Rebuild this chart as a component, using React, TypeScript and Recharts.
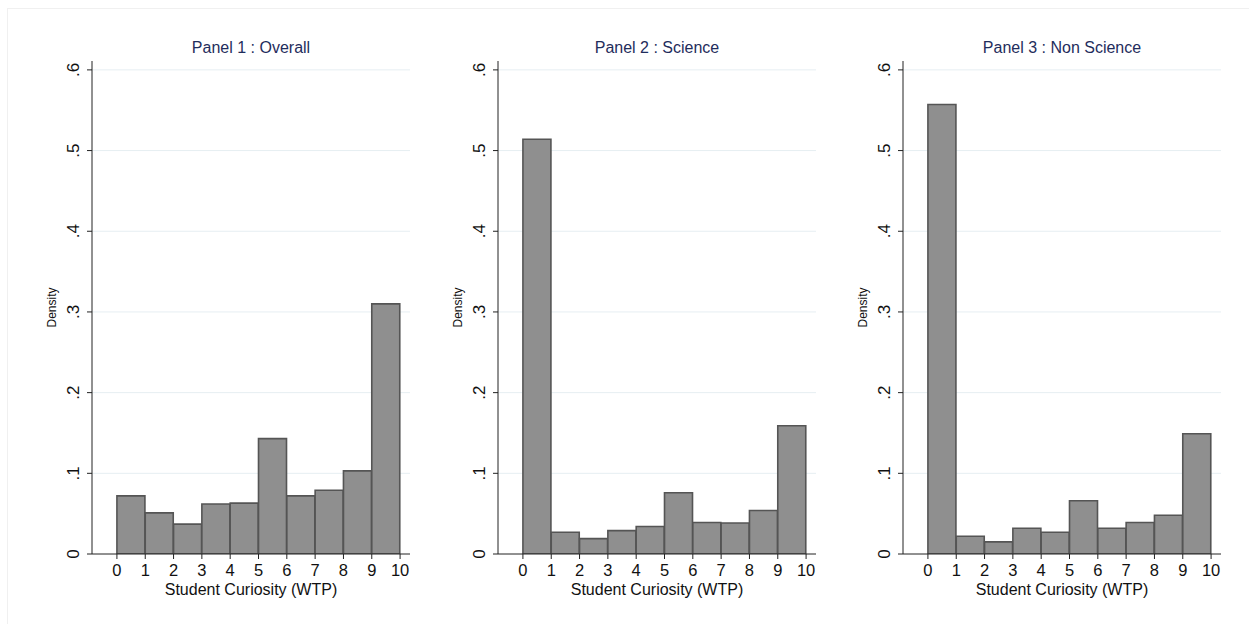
import React from "react";
import { BarChart, Bar, XAxis, YAxis, CartesianGrid, Label } from "recharts";

const BIN_CENTERS = [0.5, 1.5, 2.5, 3.5, 4.5, 5.5, 6.5, 7.5, 8.5, 9.5];
const X_TICKS = [0, 1, 2, 3, 4, 5, 6, 7, 8, 9, 10];
const Y_TICKS = [0, 0.1, 0.2, 0.3, 0.4, 0.5, 0.6];

const OVERALL = [0.072, 0.051, 0.037, 0.062, 0.063, 0.143, 0.072, 0.079, 0.103, 0.31];
const SCIENCE = [0.514, 0.027, 0.019, 0.029, 0.034, 0.076, 0.039, 0.0385, 0.054, 0.159];
const NON_SCIENCE = [0.557, 0.022, 0.015, 0.032, 0.027, 0.066, 0.032, 0.039, 0.048, 0.149];

const TITLES = ["Panel 1 : Overall", "Panel 2 : Science", "Panel 3 : Non Science"];
const FONT = "'Liberation Sans', Arial, Helvetica, sans-serif";
const AXIS = "#222";

const fmtY = (v: number) => (v === 0 ? "0" : String(Number(v.toFixed(1))).replace(/^0/, ""));

function YTick(props: any) {
  const { x, y, payload } = props;
  const bx = x + 2;
  return (
    <text x={bx} y={y} transform={`rotate(-90 ${bx} ${y})`} textAnchor="middle"
      fontSize={17} fill="#111" fontFamily={FONT}>
      {fmtY(payload.value)}
    </text>
  );
}

function Panel({ values, title, left }: { values: number[]; title: string; left: number }) {
  const data = BIN_CENTERS.map((c, i) => ({ x: c, d: values[i] }));
  return (
    <div style={{ position: "absolute", left, top: 0, width: 410, height: 624 }}>
      <div style={{
        position: "absolute", left: 92, width: 318, top: 39, textAlign: "center",
        fontFamily: FONT, fontSize: 16, color: "#1f2d5c",
      }}>{title}</div>
      <BarChart width={410} height={624} data={data} barCategoryGap={0} barGap={0}
        margin={{ top: 61, right: 0, left: 52, bottom: 30 }}>
        <CartesianGrid horizontal vertical={false} stroke="#e6eef2" horizontalValues={Y_TICKS.slice(1)} />
        <XAxis dataKey="x" type="number" domain={[-0.88, 10.35]} ticks={X_TICKS} interval={0}
          allowDataOverflow height={40} stroke={AXIS} tickSize={5} tickMargin={5}
          tick={{ fill: "#111", fontSize: 16.5, fontFamily: FONT }}>
          <Label value="Student Curiosity (WTP)" position="insideBottom" offset={-1}
            style={{ fill: "#111", fontSize: 16, fontFamily: FONT }} />
        </XAxis>
        <YAxis type="number" domain={[0, 0.611]} ticks={Y_TICKS} interval={0} allowDataOverflow
          width={40} stroke={AXIS} tickSize={5} tickMargin={10} tick={<YTick />}>
          <Label value="Density" angle={-90} position="insideLeft" offset={0}
            style={{ fill: "#111", fontSize: 12, fontFamily: FONT, textAnchor: "middle" }} />
        </YAxis>
        <Bar dataKey="d" fill="#8f8f8f" stroke="#555" strokeWidth={1.6} isAnimationActive={false} />
      </BarChart>
    </div>
  );
}

export default function App() {
  const lefts = [0, 406, 811];
  const series = [OVERALL, SCIENCE, NON_SCIENCE];
  return (
    <div style={{ position: "absolute", left: 0, top: 0, width: 1249, height: 624, background: "#fff" }}>
      <div style={{ position: "absolute", left: 7, top: 8, right: 0, bottom: 0, borderTop: "1px solid #f0f0f0", borderLeft: "1px solid #f0f0f0" }} />
      {series.map((s, i) => <Panel key={i} values={s} title={TITLES[i]} left={lefts[i]} />)}
    </div>
  );
}
